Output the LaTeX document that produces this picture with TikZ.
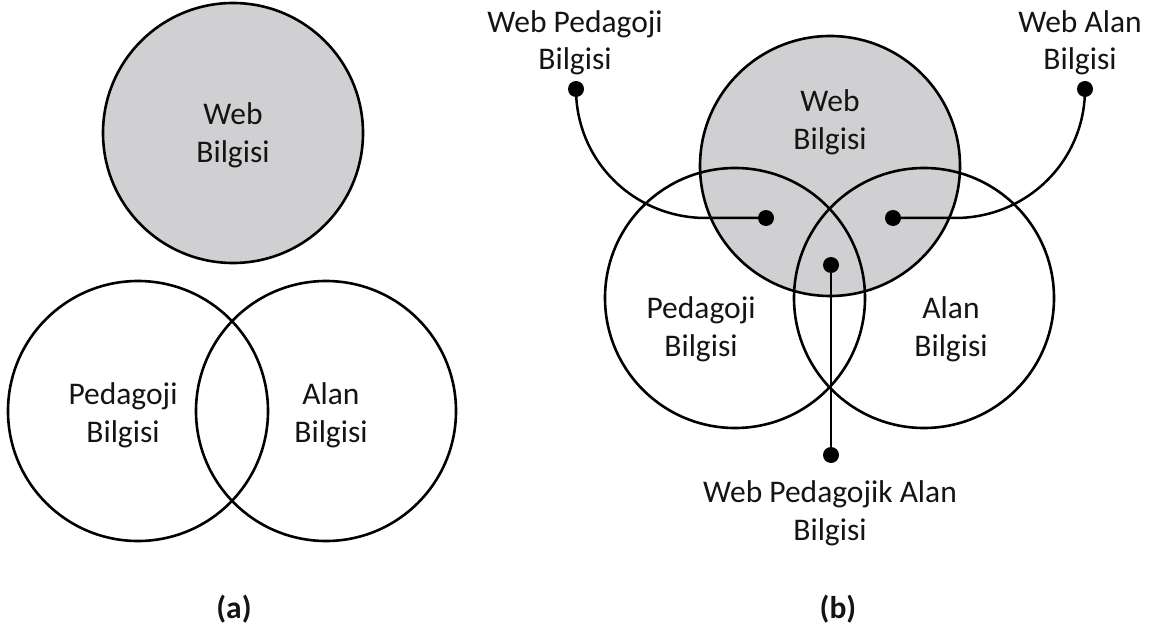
\documentclass[tikz,border=0pt]{standalone}
\usepackage{fontspec}
\setmainfont{Carlito}
\definecolor{webgray}{RGB}{208,208,210}
\definecolor{ink}{RGB}{20,20,20}
\begin{document}
\begin{tikzpicture}[x=1pt,y=-1pt,
  circ/.style={circle, draw=black, line width=2.6pt, minimum size=260pt, inner sep=0pt},
  lbl/.style={font=\fontsize{31.5}{38}\selectfont, inner sep=0pt, anchor=base, text=ink},
  captionlbl/.style={font=\fontsize{31.5}{38}\selectfont\bfseries, inner sep=0pt, text=ink},
  dotnode/.style={circle, fill=black, inner sep=0pt, minimum size=16pt},
  conn/.style={line width=2.5pt, line cap=round}]
\useasboundingbox (0,0) rectangle (1151,631);

% ---------- (a) ----------
\node[circ, fill=webgray] (wa) at (233,133) {};
\node[circ] (pa) at (138,411) {};
\node[circ] (aa) at (326,411) {};
\node[lbl] (wa1) at (233,125) {Web};
\node[lbl] (wa2) at (233,163) {Bilgisi};
\node[lbl] (pa1) at (123,404) {Pedagoji};
\node[lbl] (pa2) at (123,442) {Bilgisi};
\node[lbl] (aa1) at (331,404) {Alan};
\node[lbl] (aa2) at (331,442) {Bilgisi};
\node[captionlbl] (capa) at (234,609) {(a)};

% ---------- (b) ----------
\node[circ, fill=webgray] (wb) at (830,166) {};
\node[circ] (pb) at (735,298) {};
\node[circ] (ab) at (924,298) {};
\node[lbl] (wb1) at (830,112) {Web};
\node[lbl] (wb2) at (830,150) {Bilgisi};
\node[lbl] (pb1) at (701,318) {Pedagoji};
\node[lbl] (pb2) at (701,356) {Bilgisi};
\node[lbl] (ab1) at (951,318) {Alan};
\node[lbl] (ab2) at (951,356) {Bilgisi};

\node[lbl] (twp1) at (575,33) {Web Pedagoji};
\node[lbl] (twp2) at (575,70) {Bilgisi};
\node[lbl] (twa1) at (1080,33) {Web Alan};
\node[lbl] (twa2) at (1080,70) {Bilgisi};
\node[lbl] (twpa1) at (830,502) {Web Pedagojik Alan};
\node[lbl] (twpa2) at (830,540) {Bilgisi};
\node[captionlbl] (capb) at (838,609) {(b)};

\node[dotnode] (dwp) at (576,89) {};
\node[dotnode] (dwa) at (1085,89) {};
\node[dotnode] (dped) at (766,218) {};
\node[dotnode] (dalan) at (893,218) {};
\node[dotnode] (dmid) at (831,265) {};
\node[dotnode] (dbot) at (831,455) {};

\draw[conn] (dwp.center) .. controls +(0,72) and +(-72,0) .. ([xshift=-60pt]dped.center) -- (dped.center);
\draw[conn] (dwa.center) .. controls +(0,72) and +(72,0) .. ([xshift=62pt]dalan.center) -- (dalan.center);
\draw[conn] (dmid.center) -- (dbot.center);
\end{tikzpicture}
\end{document}
